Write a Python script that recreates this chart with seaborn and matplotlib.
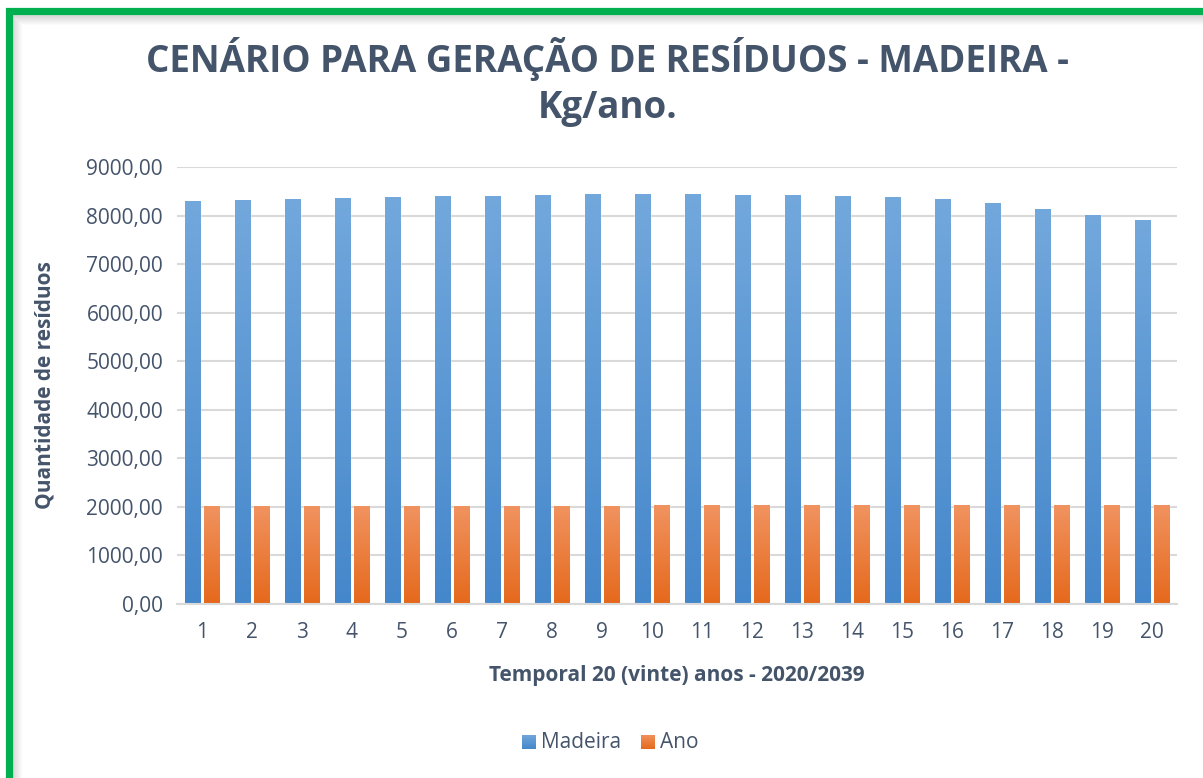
import numpy as np
import pandas as pd
import matplotlib
matplotlib.use("Agg")
import matplotlib.pyplot as plt
from matplotlib.colors import LinearSegmentedColormap
from matplotlib.patches import Rectangle
import seaborn as sns

categories = [str(i) for i in range(1, 21)]
madeira = [8300, 8320, 8340, 8360, 8380, 8400, 8405, 8420, 8440, 8445,
           8445, 8425, 8420, 8400, 8380, 8340, 8260, 8135, 8010, 7910]
ano = [2020, 2021, 2022, 2023, 2024, 2025, 2026, 2027, 2028, 2029,
       2030, 2031, 2032, 2033, 2034, 2035, 2036, 2037, 2038, 2039]
yticks = [0, 1000, 2000, 3000, 4000, 5000, 6000, 7000, 8000, 9000]
series_names = ["Madeira", "Ano"]

df = pd.DataFrame({
    "cat": categories * 2,
    "valor": madeira + ano,
    "serie": [series_names[0]] * 20 + [series_names[1]] * 20,
})

sns.set_theme(style="white")
plt.rcParams["font.family"] = ["Open Sans", "DejaVu Sans"]

TXT = "#44546A"
BLUE_TOP, BLUE_BOT = "#72A8DC", "#4587CB"
OR_TOP, OR_BOT = "#F19360", "#E5691C"

fig = plt.figure(figsize=(12.03, 7.78), dpi=100)
ax = fig.add_axes([177 / 1203, 174 / 778, 1000 / 1203, 437 / 778])

sns.barplot(data=df, x="cat", y="valor", hue="serie", order=categories,
            hue_order=series_names, palette=[BLUE_BOT, OR_BOT],
            width=0.76, gap=0.16, ax=ax, legend=False, saturation=1)

ax.set_ylim(0, 9000)
ax.set_xlim(-0.5, 19.5)
ax.set_yticks(yticks)
ax.set_yticklabels([f"{v:.2f}".replace(".", ",") for v in yticks])
ax.yaxis.grid(True, color="#D9D9D9", lw=1.5)
ax.set_axisbelow(True)
for s in ["top", "right", "left"]:
    ax.spines[s].set_visible(False)
ax.spines["bottom"].set_color("#D9D9D9")
ax.spines["bottom"].set_linewidth(1.5)
ax.tick_params(axis="both", length=0, colors=TXT, labelsize=15)
ax.tick_params(axis="x", pad=13)
ax.tick_params(axis="y", pad=10)

# gradient fills
def grad_cmap(top, bot):
    return LinearSegmentedColormap.from_list("g", [bot, top])

cm_b = grad_cmap(BLUE_TOP, BLUE_BOT)
cm_o = grad_cmap(OR_TOP, OR_BOT)
grad = np.linspace(0, 1, 256).reshape(-1, 1)
for i, p in enumerate(list(ax.patches)):
    cmap = cm_b if i < 20 else cm_o
    x0, y0 = p.get_x(), p.get_y()
    w, h = p.get_width(), p.get_height()
    im = ax.imshow(grad, cmap=cmap, origin="lower", aspect="auto",
                   extent=(x0, x0 + w, y0, y0 + h), zorder=p.get_zorder() + 0.1,
                   interpolation="bilinear")
    im.set_clip_path(p)
ax.set_xlim(-0.5, 19.5)
ax.set_ylim(0, 9000)

ax.set_xlabel("Temporal 20 (vinte) anos - 2020/2039", fontsize=15,
              fontweight="bold", color=TXT, labelpad=16)
ax.set_ylabel("Quantidade de resíduos", fontsize=15, fontweight="bold",
              color=TXT, labelpad=22)

fig.text(0.505, 1 - 59 / 778, "CENÁRIO PARA GERAÇÃO DE RESÍDUOS - MADEIRA -",
         ha="center", va="center", fontsize=26.5, fontweight="bold", color=TXT)
fig.text(0.505, 1 - 108 / 778, "Kg/ano.",
         ha="center", va="center", fontsize=26.5, fontweight="bold", color=TXT)

# legend
ly = 1 - 742 / 778
for (lx, cm, name) in [(522, cm_b, "Madeira"), (641, cm_o, "Ano")]:
    sz = 14
    lax = fig.add_axes([lx / 1203, ly - (sz / 2) / 778, sz / 1203, sz / 778])
    lax.imshow(grad, cmap=cm, origin="lower", aspect="auto")
    lax.axis("off")
    fig.text((lx + sz + 5) / 1203, ly, name, ha="left", va="center",
             fontsize=15, color=TXT)

# green border with soft inner shadow
for k in range(10):
    a = 0.12 * (1 - k / 10)
    fig.add_artist(Rectangle(((12 + k) / 1203, -0.1), 1.2, (778 - 15 - k) / 778 + 0.1,
                             transform=fig.transFigure, fill=False,
                             edgecolor=(0, 0, 0, a), lw=1))
fig.add_artist(Rectangle((8.5 / 1203, -0.1), 1.2, (778 - 11.5) / 778 + 0.1,
                         transform=fig.transFigure, fill=False,
                         edgecolor="#00B050", lw=5.2))

fig.savefig("out.png", dpi=100)
